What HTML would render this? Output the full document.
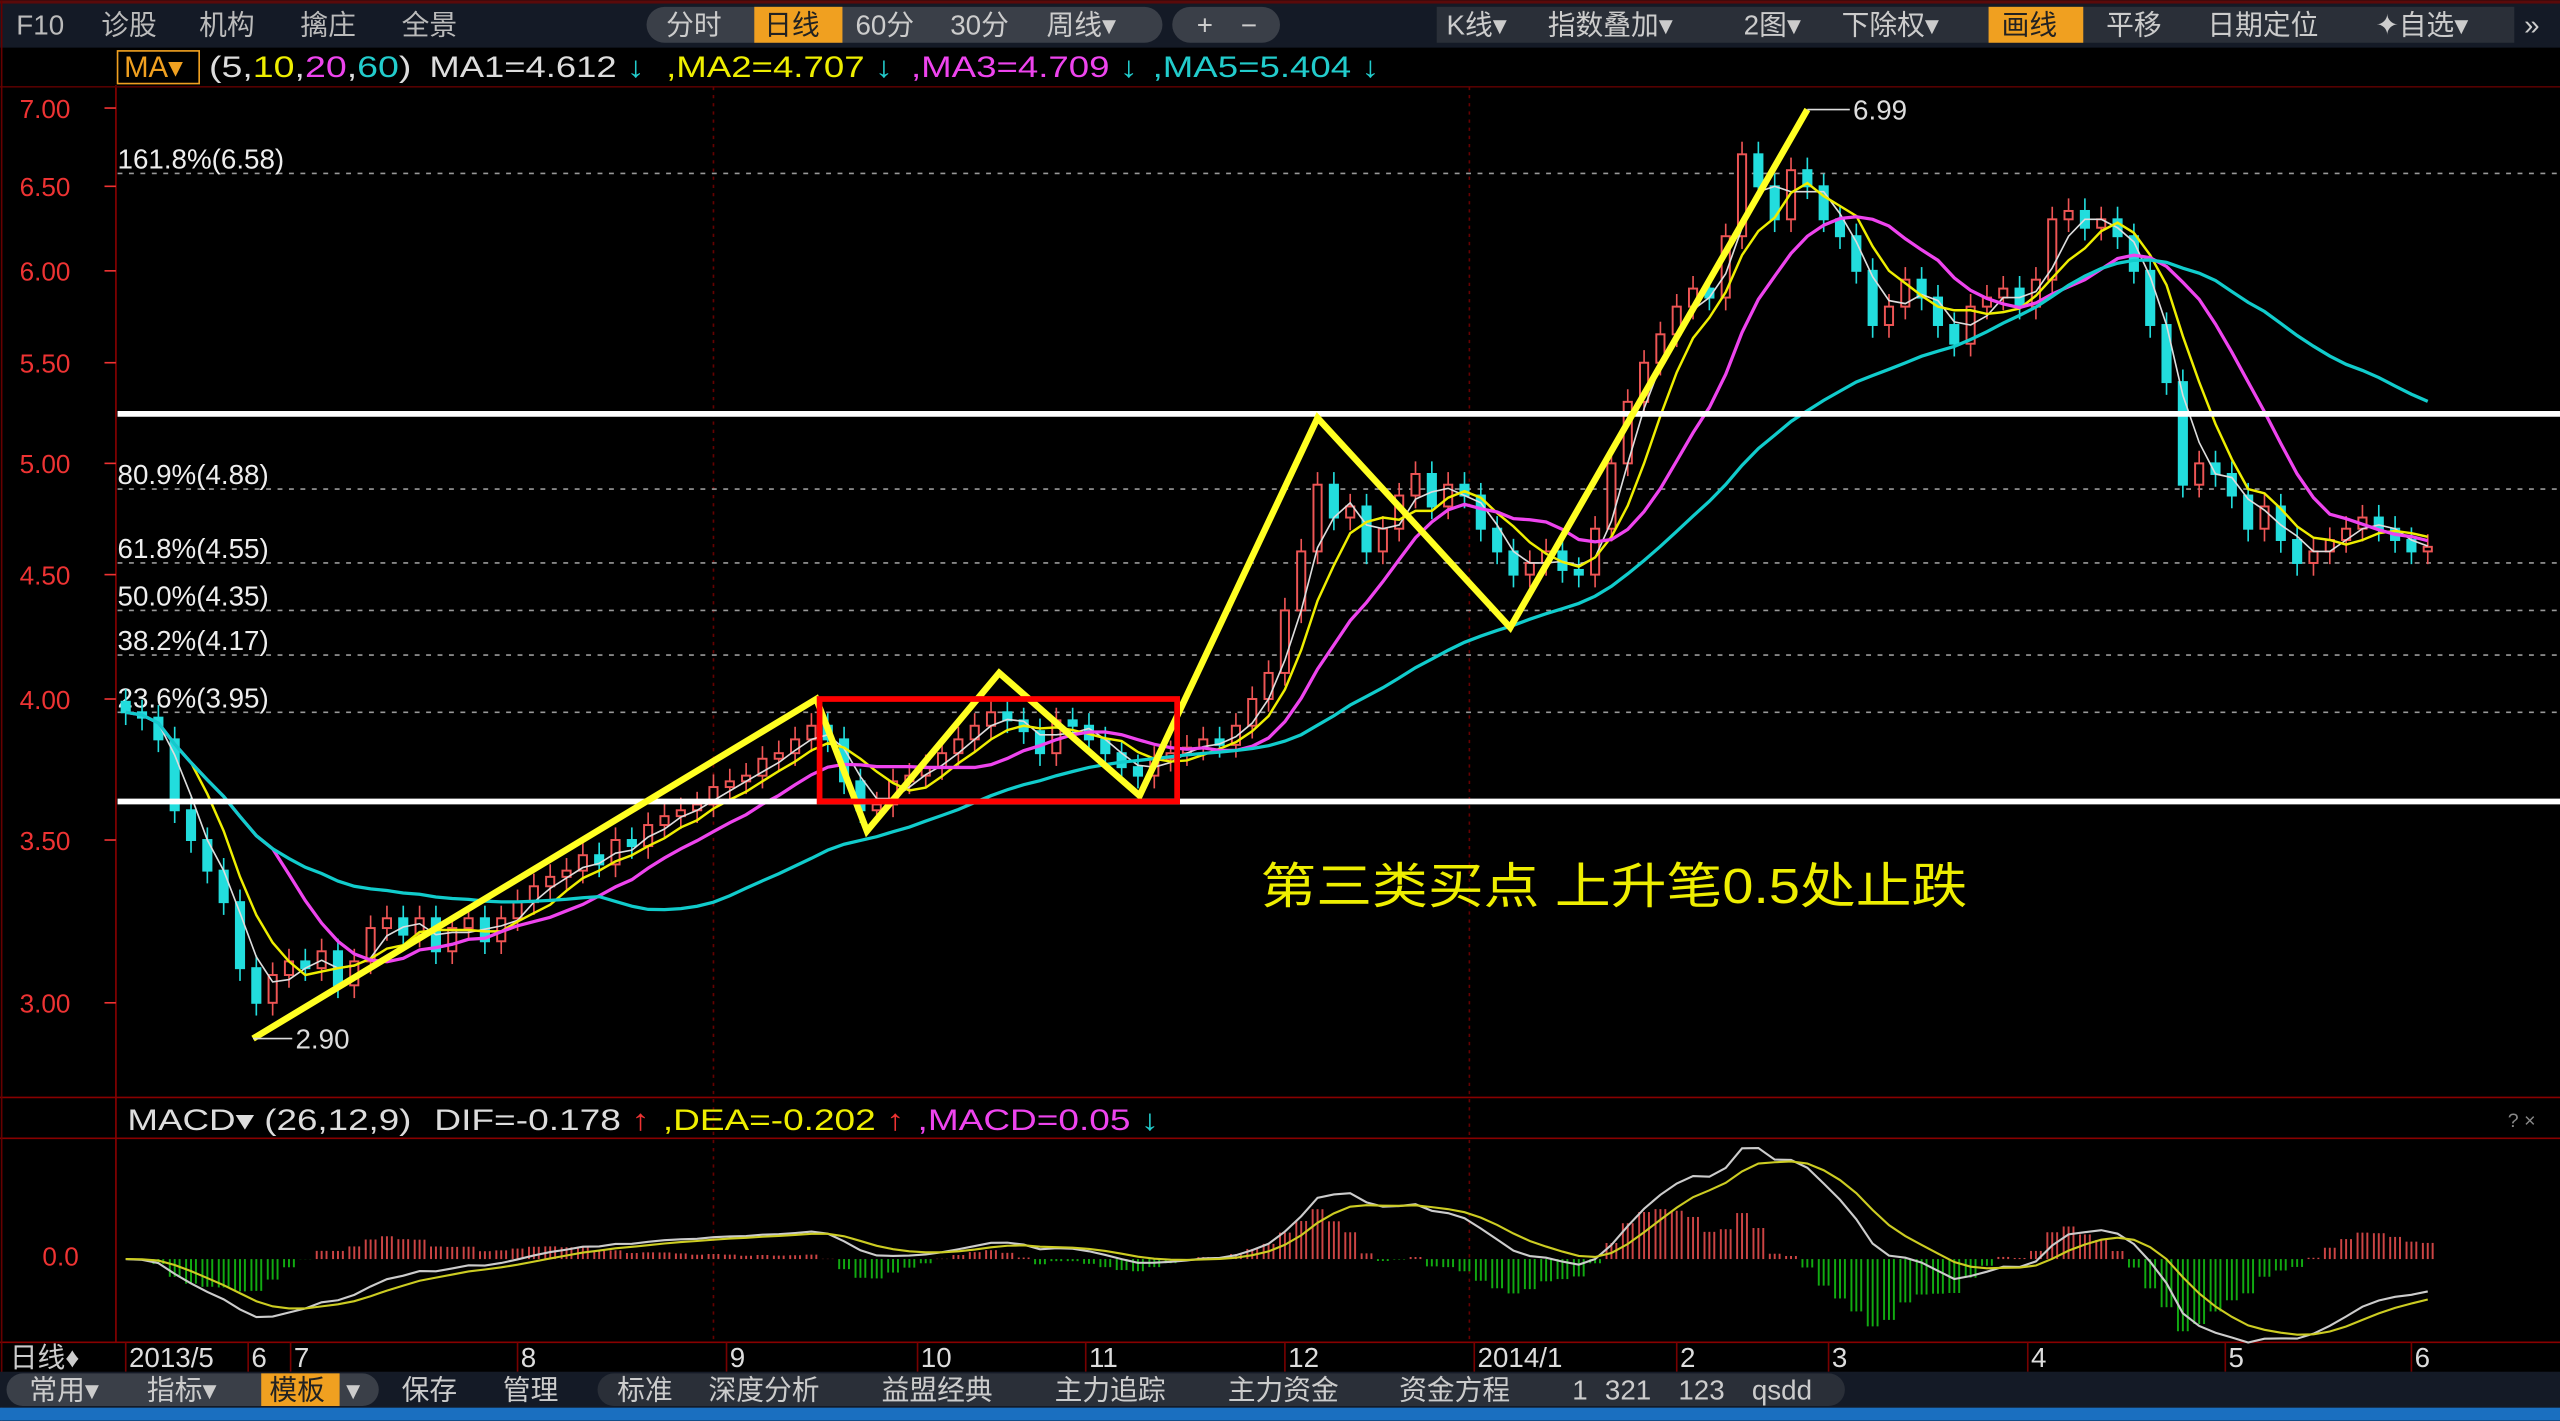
<!DOCTYPE html>
<html><head><meta charset="utf-8"><style>
html,body{margin:0;padding:0;background:#000;overflow:hidden}
svg{display:block}
text{font-family:"Liberation Sans","Noto Sans CJK SC",sans-serif}
</style></head><body>
<svg id="chart" width="2560" height="1421" viewBox="0 0 1568 870" xmlns="http://www.w3.org/2000/svg">
<rect width="1568" height="870" fill="#000"/>
<g font-size="17" fill="#bbb">
<rect x="0" y="0" width="1568" height="29" fill="#141a26"/>
<rect x="0" y="0" width="1568" height="2" fill="#5a0a0a"/>
<text x="10" y="21">F10</text>
<text x="62" y="21">诊股</text>
<text x="122" y="21">机构</text>
<text x="184" y="21">擒庄</text>
<text x="246" y="21">全景</text>
<rect x="396" y="4" width="316" height="22" rx="11" fill="#3a3f48"/>
<rect x="462" y="4" width="54" height="22" fill="#f0a020"/>
<text x="408" y="21" fill="#ccc">分时</text>
<text x="468" y="21" fill="#222">日线</text>
<text x="524" y="21" fill="#ccc">60分</text>
<text x="582" y="21" fill="#ccc">30分</text>
<text x="641" y="21" fill="#ccc">周线▾</text>
<rect x="718" y="4" width="66" height="22" rx="11" fill="#3a3f48"/>
<text x="733" y="21" fill="#ccc">+</text>
<text x="760" y="21" fill="#ccc">−</text>
<rect x="880" y="4" width="660" height="22" fill="#2a2f38"/>
<rect x="1218" y="4" width="58" height="22" fill="#f0a020"/>
<text x="886" y="21" fill="#ccc">K线▾</text>
<text x="948" y="21" fill="#ccc">指数叠加▾</text>
<text x="1068" y="21" fill="#ccc">2图▾</text>
<text x="1128" y="21" fill="#ccc">下除权▾</text>
<text x="1226" y="21" fill="#222">画线</text>
<text x="1290" y="21" fill="#ccc">平移</text>
<text x="1352" y="21" fill="#ccc">日期定位</text>
<text x="1455" y="21" fill="#ccc">✦自选▾</text>
<text x="1546" y="21" fill="#ccc">»</text>
</g>
<g font-size="18">
<rect x="72" y="31" width="50" height="20" fill="none" stroke="#f0a020"/>
<text x="76" y="47" fill="#f0a020">MA▾</text>
<text x="128" y="47" fill="#ddd" textLength="124" lengthAdjust="spacingAndGlyphs">(5,<tspan fill="#ee0">10</tspan>,<tspan fill="#e4e">20</tspan>,<tspan fill="#2cc">60</tspan>)</text>
<text x="263" y="47" fill="#ddd" textLength="132" lengthAdjust="spacingAndGlyphs">MA1=4.612 <tspan fill="#2cc">↓</tspan></text>
<text x="408" y="47" fill="#ee0" textLength="139" lengthAdjust="spacingAndGlyphs">,MA2=4.707 <tspan fill="#2cc">↓</tspan></text>
<text x="558" y="47" fill="#e4e" textLength="139" lengthAdjust="spacingAndGlyphs">,MA3=4.709 <tspan fill="#2cc">↓</tspan></text>
<text x="706" y="47" fill="#2cc" textLength="139" lengthAdjust="spacingAndGlyphs">,MA5=5.404 ↓</text>
</g>
<g id="frame">
<line x1="71" y1="52" x2="71" y2="822" stroke="#800"/>
<line x1="0" y1="53" x2="1568" y2="53" stroke="#500"/>
<line x1="0" y1="672" x2="1568" y2="672" stroke="#800"/>
<line x1="0" y1="697" x2="1568" y2="697" stroke="#800"/>
<line x1="0" y1="822" x2="1568" y2="822" stroke="#800"/>
<line x1="437" y1="53" x2="437" y2="822" stroke="#600" stroke-dasharray="2,3"/>
<line x1="900" y1="53" x2="900" y2="822" stroke="#600" stroke-dasharray="2,3"/>
<line x1="1" y1="0" x2="1" y2="870" stroke="#600"/>
</g>
<g id="yaxis"></g>
<g id="fib"></g>
<g id="candles"></g>
<g id="mas"></g>
<g id="annot"></g>
<g id="macd"></g>
<g font-size="18">
<text x="78" y="692" fill="#ddd" textLength="174" lengthAdjust="spacingAndGlyphs">MACD▾ (26,12,9)</text>
<text x="266" y="692" fill="#ddd" textLength="132" lengthAdjust="spacingAndGlyphs">DIF=-0.178 <tspan fill="#e33">↑</tspan></text>
<text x="406" y="692" fill="#ee0" textLength="148" lengthAdjust="spacingAndGlyphs">,DEA=-0.202 <tspan fill="#e33">↑</tspan></text>
<text x="562" y="692" fill="#e4e" textLength="148" lengthAdjust="spacingAndGlyphs">,MACD=0.05 <tspan fill="#2cc">↓</tspan></text>
</g>
<text x="1536" y="690" font-size="12" fill="#888">? ×</text>
<text x="26" y="775" font-size="16" fill="#e33">0.0</text>
<g id="xaxis">
<text x="6" y="837" font-size="17" fill="#ccc">日线♦</text>
</g>
<g font-size="17" fill="#ccc">
<rect x="0" y="840" width="1568" height="22" fill="#141a26"/>
<rect x="4" y="841" width="228" height="20" rx="10" fill="#3a3f48"/>
<rect x="160" y="841" width="48" height="20" fill="#f0a020"/>
<text x="18" y="857">常用▾</text>
<text x="90" y="857">指标▾</text>
<text x="165" y="857" fill="#222">模板</text>
<text x="212" y="857">▾</text>
<text x="246" y="857">保存</text>
<text x="308" y="857">管理</text>
<rect x="366" y="841" width="764" height="20" rx="10" fill="#2a2f38"/>
<text x="378" y="857">标准</text>
<text x="434" y="857">深度分析</text>
<text x="540" y="857">益盟经典</text>
<text x="646" y="857">主力追踪</text>
<text x="752" y="857">主力资金</text>
<text x="857" y="857">资金方程</text>
<text x="963" y="857">1</text>
<text x="983" y="857">321</text>
<text x="1028" y="857">123</text>
<text x="1073" y="857">qsdd</text>
<rect x="0" y="862" width="1568" height="8" fill="#1a6fc0"/>
</g>
<text x="772" y="553" font-size="30" fill="#ee0" textLength="433" lengthAdjust="spacingAndGlyphs">第三类买点 上升笔0.5处止跌</text>
</svg>
<script>
const closes=[3.95,3.93,3.85,3.6,3.5,3.4,3.3,3.1,3.0,3.08,3.12,3.1,3.15,3.05,3.12,3.22,3.25,3.2,3.25,3.15,3.22,3.25,3.18,3.25,3.3,3.35,3.38,3.4,3.45,3.42,3.5,3.48,3.55,3.58,3.6,3.62,3.68,3.7,3.72,3.78,3.8,3.85,3.9,3.85,3.7,3.6,3.62,3.7,3.72,3.75,3.8,3.85,3.9,3.95,3.92,3.88,3.8,3.92,3.9,3.85,3.8,3.75,3.72,3.78,3.8,3.82,3.85,3.83,3.9,4.0,4.1,4.35,4.6,4.9,4.75,4.8,4.6,4.7,4.85,4.95,4.8,4.9,4.85,4.7,4.6,4.5,4.55,4.6,4.52,4.5,4.7,5.0,5.3,5.5,5.65,5.8,5.9,5.85,6.2,6.7,6.5,6.3,6.6,6.5,6.3,6.2,6.0,5.7,5.8,5.95,5.85,5.7,5.6,5.8,5.85,5.9,5.8,5.95,6.3,6.35,6.25,6.3,6.2,6.0,5.7,5.4,4.9,5.0,4.95,4.85,4.7,4.8,4.65,4.55,4.6,4.65,4.7,4.75,4.7,4.65,4.6,4.62];
const priceTicks=["7.00","6.50","6.00","5.50","5.00","4.50","4.00","3.50","3.00"];
const fibLabels=["161.8%(6.58)","80.9%(4.88)","61.8%(4.55)","50.0%(4.35)","38.2%(4.17)","23.6%(3.95)"];
const fibValues=[6.58,4.88,4.55,4.35,4.17,3.95];
const monthLabels=["2013/5","6","7","8","9","10","11","12","2014/1","2","3","4","5","6"];
const monthBars=[0,7.5,10.1,24,36.8,48.5,58.8,71,82.6,95,104.3,116.5,128.6,140];
const zigIdx=[7.8,42.3,45.4,53.5,62.1,73,84.8,103];
const zigPrice=[2.90,4.00,3.53,4.10,3.65,5.22,4.28,6.99];
const supportLevels=[5.24,3.63];
const NS="http://www.w3.org/2000/svg";
const X0=77,DX=10;
function xs(i){return X0+i*DX;}
function ys(p){return 66+(Math.log(7)-Math.log(p))*646.8;}
function el(tag,attrs,parent){const e=document.createElementNS(NS,tag);for(const k in attrs)e.setAttribute(k,attrs[k]);parent.appendChild(e);return e;}
const yg=document.getElementById('yaxis');
priceTicks.forEach(t=>{const y=ys(+t);
const tx=el('text',{x:12,y:y+6,'font-size':16,fill:'#e33'},yg);tx.textContent=t;


el('line',{x1:64,y1:y,x2:71,y2:y,stroke:'#e33'},yg);});
const fg=document.getElementById('fib');
fibValues.forEach((v,k)=>{const y=ys(v);
const ln=el('line',{x1:72,y1:y,x2:1568,y2:y,stroke:'#999','stroke-dasharray':'3,4'},fg);


const t=el('text',{x:72,y:y-3,'font-size':17,fill:'#eee'},fg);t.textContent=fibLabels[k];

});
const cg=document.getElementById('candles');
closes.forEach((c,i)=>{const o=i?closes[i-1]:c*1.01;const hi=Math.max(o,c)*1.012,lo=Math.min(o,c)*0.988;const up=c>=o;const col=up?'#e55':'#2dd';const x=xs(i);
el('line',{x1:x,y1:ys(hi),x2:x,y2:ys(lo),stroke:col,'stroke-width':1},cg);
const top=ys(Math.max(o,c)),h=Math.max(1.5,ys(Math.min(o,c))-top);
const r=el('rect',{x:x-2.5,y:top,width:5,height:h,fill:up?'#000':col,stroke:col,'stroke-width':1.2},cg);

});
function ma(n){return closes.map((_,i)=>{const s=Math.max(0,i-n+1);let a=0;for(let j=s;j<=i;j++)a+=closes[j];return a/(i-s+1);});}
const mg=document.getElementById('mas');
[[3,'#ddd',1],[5,'#ee0',1.5],[10,'#e4e',2],[30,'#1cc',2]].forEach(([n,col,w])=>{const m=ma(n);
const p=el('polyline',{points:m.map((v,i)=>xs(i)+','+ys(v)).join(' '),fill:'none',stroke:col,'stroke-width':w},mg);

});
const ag=document.getElementById('annot');
supportLevels.forEach(v=>{const l=el('line',{x1:72,y1:ys(v),x2:1568,y2:ys(v),stroke:'#fff','stroke-width':3.5},ag);

});
const zz=el('polyline',{points:zigIdx.map((v,k)=>xs(v)+','+ys(zigPrice[k])).join(' '),fill:'none',stroke:'#ff2','stroke-width':4,'stroke-linejoin':'miter'},ag);


const box=el('rect',{x:xs(42.5),y:ys(4.0),width:xs(64.4)-xs(42.5),height:ys(3.63)-ys(4.0),fill:'none',stroke:'#f00','stroke-width':3.5},ag);


const hl=el('text',{x:xs(103)+28,y:ys(6.99)+6,'font-size':17,fill:'#ddd'},ag);hl.textContent='6.99';


el('line',{x1:xs(103),y1:ys(6.99),x2:xs(103)+26,y2:ys(6.99),stroke:'#ddd'},ag);
const ll=el('text',{x:xs(7.8)+26,y:ys(2.9)+6,'font-size':17,fill:'#ddd'},ag);ll.textContent='2.90';


el('line',{x1:xs(7.8),y1:ys(2.9),x2:xs(7.8)+24,y2:ys(2.9),stroke:'#ddd'},ag);
function ema(arr,n){const k=2/(n+1);const out=[];arr.forEach((v,i)=>out.push(i?out[i-1]+k*(v-out[i-1]):v));return out;}
const e1=ema(closes,6),e2=ema(closes,13);
const dif=closes.map((_,i)=>e1[i]-e2[i]);const dea=ema(dif,5);const hist=dif.map((d,i)=>2*(d-dea[i]));
const maxAbs=Math.max(...dif.map(Math.abs),...hist.map(Math.abs));
const Z=771,S=68/maxAbs;
function ym(v){return Z-v*S;}
const mgp=document.getElementById('macd');
hist.forEach((h,i)=>{const x=xs(i);[-3,0,3].forEach(o=>{const b=el('line',{x1:x+o,y1:Z,x2:x+o,y2:ym(h),stroke:h>=0?'#c44':'#1a1','stroke-width':1.2},mgp);

});});
const pd=el('polyline',{points:dif.map((v,i)=>xs(i)+','+ym(v)).join(' '),fill:'none',stroke:'#ccc','stroke-width':1.3},mgp);


const pe=el('polyline',{points:dea.map((v,i)=>xs(i)+','+ym(v)).join(' '),fill:'none',stroke:'#cc2','stroke-width':1.3},mgp);


const xg=document.getElementById('xaxis');
monthLabels.forEach((m,k)=>{const x=xs(monthBars[k]);
el('line',{x1:x,y1:822,x2:x,y2:840,stroke:'#700'},xg);
const t=el('text',{x:x+2,y:837,'font-size':17,fill:'#ddd'},xg);t.textContent=m;

});
</script>
</body></html>
